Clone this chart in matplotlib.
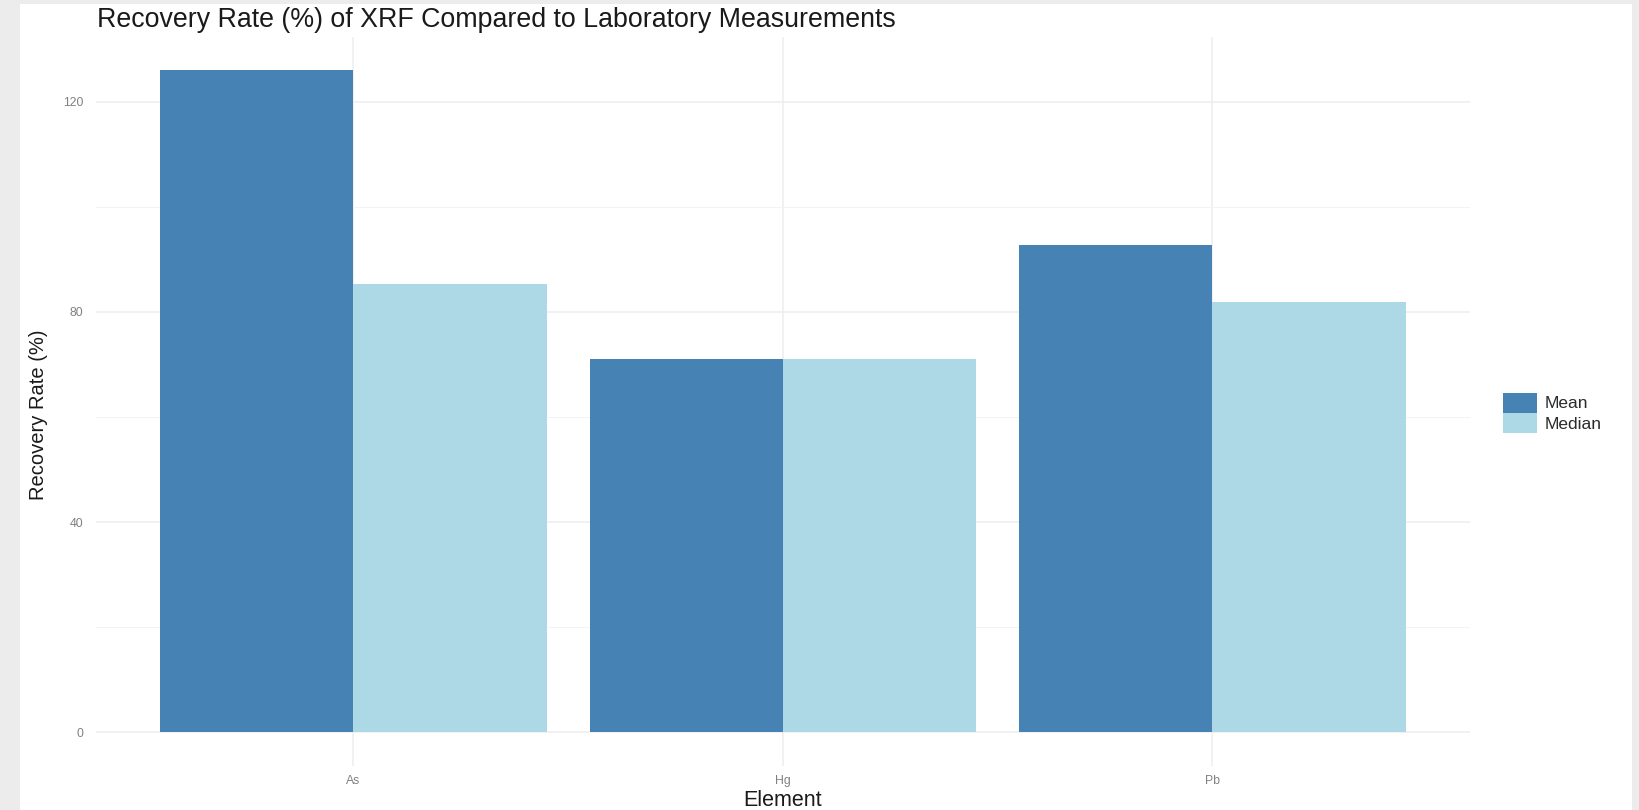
import matplotlib
matplotlib.use("Agg")
import matplotlib.pyplot as plt
from matplotlib.patches import Rectangle
import numpy as np

elements = ["As", "Hg", "Pb"]
mean_vals = [126.0, 71.0, 92.7]
median_vals = [85.4, 71.1, 81.9]
series_names = ["Mean", "Median"]
colors = ["#4682B4", "#ADD8E6"]
yticks_major = [0, 40, 80, 120]
yticks_minor = [20, 60, 100]

plt.rcParams['font.family'] = ['Liberation Sans', 'DejaVu Sans']

W, H = 1640, 810
fig = plt.figure(figsize=(W / 100, H / 100), dpi=100, facecolor="#ececec")
bg = Rectangle((20 / W, 0), (1632 - 20) / W, 1 - 4 / H,
               transform=fig.transFigure, facecolor="white",
               edgecolor="none", zorder=-10)
fig.patches.append(bg)

left, right, top, bottom = 95.6, 1470, 37, 765.6
ax = fig.add_axes([left / W, 1 - bottom / H, (right - left) / W, (bottom - top) / H])
ax.set_zorder(1)
ax.set_facecolor("none")

x = np.arange(len(elements))
bw = 0.45
ax.bar(x - bw / 2, mean_vals, width=bw, color=colors[0], label=series_names[0], zorder=2)
ax.bar(x + bw / 2, median_vals, width=bw, color=colors[1], label=series_names[1], zorder=2)

ymax = max(max(mean_vals), max(median_vals))
ax.set_xlim(-0.6, len(elements) - 0.4)
ax.set_ylim(-0.05 * ymax, 1.05 * ymax)

ax.set_xticks(x)
ax.set_xticklabels(elements)
ax.set_yticks(yticks_major)
ax.set_yticks(yticks_minor, minor=True)

ax.grid(True, which="major", axis="both", color="#ededed", linewidth=1.1, zorder=0)
ax.grid(True, which="minor", axis="y", color="#f3f3f3", linewidth=0.7, zorder=0)
ax.set_axisbelow(True)
for s in ax.spines.values():
    s.set_visible(False)
ax.tick_params(axis="both", which="both", length=0, colors="#808080", labelsize=8.8)
ax.tick_params(axis="x", pad=7)
ax.tick_params(axis="y", pad=9)

ax.set_xlabel("Element", fontsize=15.5, color="#1a1a1a")
ax.xaxis.set_label_coords(0.5, -(801 - bottom) / (bottom - top), transform=ax.transAxes)
ax.xaxis.label.set_va("center")
ax.set_ylabel("Recovery Rate (%)", fontsize=14.5, color="#1a1a1a")
ax.yaxis.set_label_coords(-(left - 39) / (right - left), (bottom - 415) / (bottom - top))
ax.yaxis.label.set_va("center")

fig.text(97 / W, 1 - 27 / H, "Recovery Rate (%) of XRF Compared to Laboratory Measurements",
         fontsize=19.3, color="#1a1a1a", ha="left", va="baseline")

leg = ax.legend(loc="center left", bbox_to_anchor=(1503 / W, 1 - 413 / H),
                bbox_transform=fig.transFigure, frameon=False, fontsize=12.5,
                handlelength=1.95, handleheight=1.38, labelspacing=0.05,
                handletextpad=0.45, borderpad=0, borderaxespad=0)
for t in leg.get_texts():
    t.set_color("#2b2b2b")

fig.savefig("out.png", dpi=100, facecolor=fig.get_facecolor())
